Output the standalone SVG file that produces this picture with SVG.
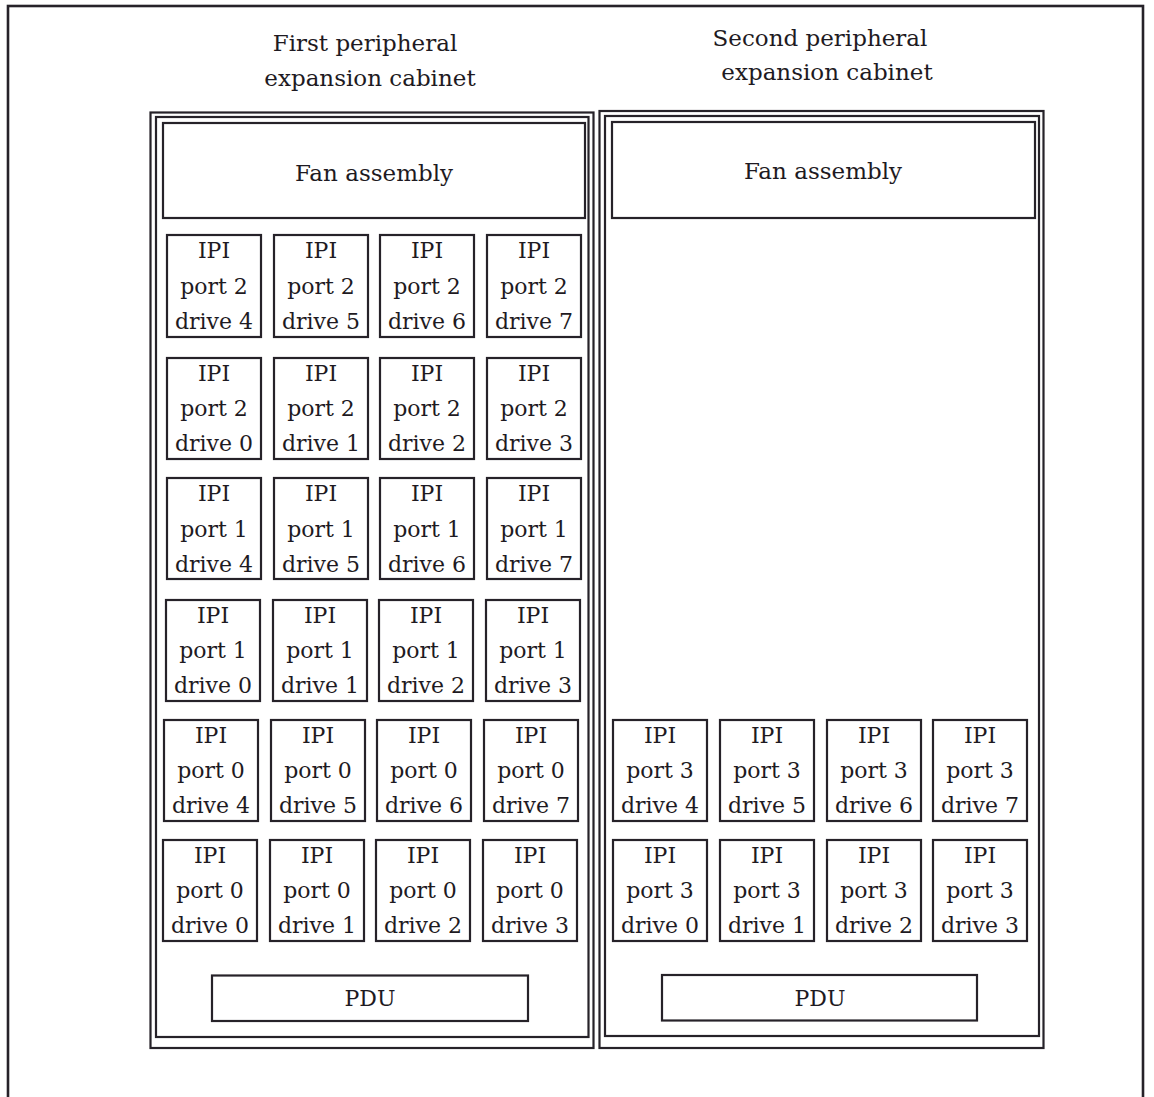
<svg xmlns="http://www.w3.org/2000/svg" width="1154" height="1097" viewBox="0 0 1154 1097">
<style>
.frame{fill:none;stroke:#262229;stroke-width:2.6}
.cab{fill:none;stroke:#262229;stroke-width:2.2}
.box{fill:none;stroke:#262229;stroke-width:2.2}
text{font-family:"DejaVu Serif","Liberation Serif",serif;fill:#1e1a22;text-anchor:middle}
.t{font-size:22px}
.h{font-size:23px}
</style>
<rect x="0" y="0" width="1154" height="1097" fill="#ffffff"/>
<rect class="frame" x="8" y="6" width="1135" height="1110"/>
<g id="title1">
<text class="h" x="365" y="51">First peripheral</text>
<text class="h" x="370" y="86">expansion cabinet</text>
</g>
<g id="title2">
<text class="h" x="820" y="46">Second peripheral</text>
<text class="h" x="827" y="80">expansion cabinet</text>
</g>
<g id="cabinet1">
<rect class="cab" x="150.5" y="112.5" width="443" height="935.5"/>
<rect class="cab" x="156" y="117" width="432.5" height="920"/>
</g>
<g id="cabinet2">
<rect class="cab" x="599.5" y="111" width="444" height="937"/>
<rect class="cab" x="605" y="116" width="434" height="920"/>
</g>
<g id="fan1">
<rect class="box" x="163" y="123" width="422" height="95"/>
<text class="h" x="374" y="181">Fan assembly</text>
</g>
<g id="fan2">
<rect class="box" x="612" y="122" width="423" height="96"/>
<text class="h" x="823" y="179">Fan assembly</text>
</g>
<g id="c1-p2d4"><rect class="box" x="167" y="235" width="94" height="102"/><text class="t" x="214" y="258">IPI</text><text class="t" x="214" y="294">port 2</text><text class="t" x="214" y="329">drive 4</text></g>
<g id="c1-p2d5"><rect class="box" x="274" y="235" width="94" height="102"/><text class="t" x="321" y="258">IPI</text><text class="t" x="321" y="294">port 2</text><text class="t" x="321" y="329">drive 5</text></g>
<g id="c1-p2d6"><rect class="box" x="380" y="235" width="94" height="102"/><text class="t" x="427" y="258">IPI</text><text class="t" x="427" y="294">port 2</text><text class="t" x="427" y="329">drive 6</text></g>
<g id="c1-p2d7"><rect class="box" x="487" y="235" width="94" height="102"/><text class="t" x="534" y="258">IPI</text><text class="t" x="534" y="294">port 2</text><text class="t" x="534" y="329">drive 7</text></g>
<g id="c1-p2d0"><rect class="box" x="167" y="358" width="94" height="101"/><text class="t" x="214" y="381">IPI</text><text class="t" x="214" y="416">port 2</text><text class="t" x="214" y="451">drive 0</text></g>
<g id="c1-p2d1"><rect class="box" x="274" y="358" width="94" height="101"/><text class="t" x="321" y="381">IPI</text><text class="t" x="321" y="416">port 2</text><text class="t" x="321" y="451">drive 1</text></g>
<g id="c1-p2d2"><rect class="box" x="380" y="358" width="94" height="101"/><text class="t" x="427" y="381">IPI</text><text class="t" x="427" y="416">port 2</text><text class="t" x="427" y="451">drive 2</text></g>
<g id="c1-p2d3"><rect class="box" x="487" y="358" width="94" height="101"/><text class="t" x="534" y="381">IPI</text><text class="t" x="534" y="416">port 2</text><text class="t" x="534" y="451">drive 3</text></g>
<g id="c1-p1d4"><rect class="box" x="167" y="478" width="94" height="101"/><text class="t" x="214" y="501">IPI</text><text class="t" x="214" y="537">port 1</text><text class="t" x="214" y="572">drive 4</text></g>
<g id="c1-p1d5"><rect class="box" x="274" y="478" width="94" height="101"/><text class="t" x="321" y="501">IPI</text><text class="t" x="321" y="537">port 1</text><text class="t" x="321" y="572">drive 5</text></g>
<g id="c1-p1d6"><rect class="box" x="380" y="478" width="94" height="101"/><text class="t" x="427" y="501">IPI</text><text class="t" x="427" y="537">port 1</text><text class="t" x="427" y="572">drive 6</text></g>
<g id="c1-p1d7"><rect class="box" x="487" y="478" width="94" height="101"/><text class="t" x="534" y="501">IPI</text><text class="t" x="534" y="537">port 1</text><text class="t" x="534" y="572">drive 7</text></g>
<g id="c1-p1d0"><rect class="box" x="166" y="600" width="94" height="101"/><text class="t" x="213" y="623">IPI</text><text class="t" x="213" y="658">port 1</text><text class="t" x="213" y="693">drive 0</text></g>
<g id="c1-p1d1"><rect class="box" x="273" y="600" width="94" height="101"/><text class="t" x="320" y="623">IPI</text><text class="t" x="320" y="658">port 1</text><text class="t" x="320" y="693">drive 1</text></g>
<g id="c1-p1d2"><rect class="box" x="379" y="600" width="94" height="101"/><text class="t" x="426" y="623">IPI</text><text class="t" x="426" y="658">port 1</text><text class="t" x="426" y="693">drive 2</text></g>
<g id="c1-p1d3"><rect class="box" x="486" y="600" width="94" height="101"/><text class="t" x="533" y="623">IPI</text><text class="t" x="533" y="658">port 1</text><text class="t" x="533" y="693">drive 3</text></g>
<g id="c1-p0d4"><rect class="box" x="164" y="720" width="94" height="101"/><text class="t" x="211" y="743">IPI</text><text class="t" x="211" y="778">port 0</text><text class="t" x="211" y="813">drive 4</text></g>
<g id="c1-p0d5"><rect class="box" x="271" y="720" width="94" height="101"/><text class="t" x="318" y="743">IPI</text><text class="t" x="318" y="778">port 0</text><text class="t" x="318" y="813">drive 5</text></g>
<g id="c1-p0d6"><rect class="box" x="377" y="720" width="94" height="101"/><text class="t" x="424" y="743">IPI</text><text class="t" x="424" y="778">port 0</text><text class="t" x="424" y="813">drive 6</text></g>
<g id="c1-p0d7"><rect class="box" x="484" y="720" width="94" height="101"/><text class="t" x="531" y="743">IPI</text><text class="t" x="531" y="778">port 0</text><text class="t" x="531" y="813">drive 7</text></g>
<g id="c1-p0d0"><rect class="box" x="163" y="840" width="94" height="101"/><text class="t" x="210" y="863">IPI</text><text class="t" x="210" y="898">port 0</text><text class="t" x="210" y="933">drive 0</text></g>
<g id="c1-p0d1"><rect class="box" x="270" y="840" width="94" height="101"/><text class="t" x="317" y="863">IPI</text><text class="t" x="317" y="898">port 0</text><text class="t" x="317" y="933">drive 1</text></g>
<g id="c1-p0d2"><rect class="box" x="376" y="840" width="94" height="101"/><text class="t" x="423" y="863">IPI</text><text class="t" x="423" y="898">port 0</text><text class="t" x="423" y="933">drive 2</text></g>
<g id="c1-p0d3"><rect class="box" x="483" y="840" width="94" height="101"/><text class="t" x="530" y="863">IPI</text><text class="t" x="530" y="898">port 0</text><text class="t" x="530" y="933">drive 3</text></g>
<g id="c2-p3d4"><rect class="box" x="613" y="720" width="94" height="101"/><text class="t" x="660" y="743">IPI</text><text class="t" x="660" y="778">port 3</text><text class="t" x="660" y="813">drive 4</text></g>
<g id="c2-p3d5"><rect class="box" x="720" y="720" width="94" height="101"/><text class="t" x="767" y="743">IPI</text><text class="t" x="767" y="778">port 3</text><text class="t" x="767" y="813">drive 5</text></g>
<g id="c2-p3d6"><rect class="box" x="827" y="720" width="94" height="101"/><text class="t" x="874" y="743">IPI</text><text class="t" x="874" y="778">port 3</text><text class="t" x="874" y="813">drive 6</text></g>
<g id="c2-p3d7"><rect class="box" x="933" y="720" width="94" height="101"/><text class="t" x="980" y="743">IPI</text><text class="t" x="980" y="778">port 3</text><text class="t" x="980" y="813">drive 7</text></g>
<g id="c2-p3d0"><rect class="box" x="613" y="840" width="94" height="101"/><text class="t" x="660" y="863">IPI</text><text class="t" x="660" y="898">port 3</text><text class="t" x="660" y="933">drive 0</text></g>
<g id="c2-p3d1"><rect class="box" x="720" y="840" width="94" height="101"/><text class="t" x="767" y="863">IPI</text><text class="t" x="767" y="898">port 3</text><text class="t" x="767" y="933">drive 1</text></g>
<g id="c2-p3d2"><rect class="box" x="827" y="840" width="94" height="101"/><text class="t" x="874" y="863">IPI</text><text class="t" x="874" y="898">port 3</text><text class="t" x="874" y="933">drive 2</text></g>
<g id="c2-p3d3"><rect class="box" x="933" y="840" width="94" height="101"/><text class="t" x="980" y="863">IPI</text><text class="t" x="980" y="898">port 3</text><text class="t" x="980" y="933">drive 3</text></g>
<g id="pdu1">
<rect class="box" x="212" y="975.5" width="316" height="45.5"/>
<text class="t" x="370" y="1006">PDU</text>
</g>
<g id="pdu2">
<rect class="box" x="662" y="975" width="315" height="45.5"/>
<text class="t" x="820" y="1006">PDU</text>
</g>
<g id="connectors"/>
</svg>
